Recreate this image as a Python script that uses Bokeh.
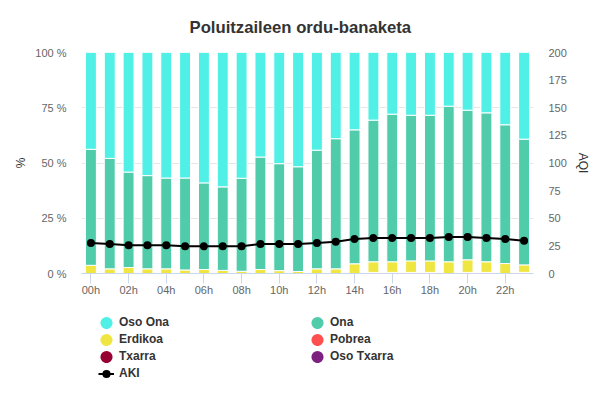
from bokeh.plotting import figure
from bokeh.models import Range1d, LinearAxis, FixedTicker, Legend, LegendItem, ColumnDataSource
from bokeh.layouts import column
from bokeh.embed import file_html
from bokeh.resources import INLINE

hours = list(range(24))
hour_labels = ["%02dh" % h for h in hours]

oso_ona = [43.8, 47.9, 54.1, 55.7, 56.8, 56.8, 59.0, 60.8, 56.9, 47.3, 50.3, 51.7,
           44.2, 39.0, 35.0, 30.6, 27.9, 28.4, 28.4, 24.3, 26.1, 27.3, 32.7, 39.2]
ona = [52.5, 50.0, 43.2, 42.2, 41.1, 41.6, 39.2, 37.8, 42.1, 50.9, 48.4, 47.4,
       53.7, 58.9, 60.6, 64.1, 66.8, 65.9, 65.9, 70.4, 67.7, 67.4, 62.8, 56.9]
erdikoa = [3.7, 2.1, 2.7, 2.1, 2.1, 1.6, 1.8, 1.4, 1.0, 1.8, 1.3, 0.9,
           2.1, 2.1, 4.4, 4.8, 4.8, 5.2, 5.2, 5.3, 5.7, 4.8, 4.5, 3.4]
pobrea = [0, 0, 0, 0, 0, 0, 0, 0, 0, 0, 0, 0,
          0, 0, 0, 0.5, 0.5, 0.5, 0.5, 0, 0.5, 0.5, 0, 0.5]
txarra = [0] * 24
oso_txarra = [0] * 24
aki = [27.6, 26.7, 25.5, 25.5, 25.5, 24.6, 24.6, 24.6, 24.6, 26.7, 26.7, 26.7,
       27.6, 28.8, 31.2, 32.1, 32.1, 32.1, 32.1, 33.0, 33.0, 32.1, 31.2, 29.7]

pct_ticks = [0, 25, 50, 75, 100]
aqi_ticks = [0, 25, 50, 75, 100, 125, 150, 175, 200]

series_names = ["Oso Txarra", "Txarra", "Pobrea", "Erdikoa", "Ona", "Oso Ona"]
keys = ["oso_txarra", "txarra", "pobrea", "erdikoa", "ona", "oso_ona"]
colors = {"Oso Ona": "#50f0e6", "Ona": "#50ccaa", "Erdikoa": "#f0e641",
          "Pobrea": "#ff5050", "Txarra": "#960032", "Oso Txarra": "#7d2181"}

source = ColumnDataSource(dict(x=hours, oso_txarra=oso_txarra, txarra=txarra, pobrea=pobrea,
                               erdikoa=erdikoa, ona=ona, oso_ona=oso_ona, aki=aki,
                               hidden=[float("nan")] * 24))

FONT = "Liberation Sans"

p = figure(width=600, height=300, output_backend="svg", toolbar_location=None,
           x_range=Range1d(-0.5, 23.5), y_range=Range1d(0, 100),
           min_border_left=81, min_border_right=67, min_border_top=51, min_border_bottom=27)
p.outline_line_color = None
p.background_fill_color = "white"
p.border_fill_color = "white"

p.title.text = "Poluitzaileen ordu-banaketa"
p.title.align = "left"
p.title.text_font = FONT
p.title.text_font_size = "16.7px"
p.title.text_font_style = "bold"
p.title.text_color = "#333333"
p.title.standoff = 31
p.title.offset = 108

bars = p.vbar_stack(keys, x="x", width=0.58, source=source,
                    color=[colors[n] for n in series_names],
                    line_color="white", line_width=1)

p.extra_y_ranges = {"aqi": Range1d(0, 200)}
line = p.line("x", "aki", source=source, y_range_name="aqi", line_color="black", line_width=2)
dots = p.scatter("x", "aki", source=source, y_range_name="aqi", size=5, line_width=3,
                 fill_color="black", line_color="black")

# axes
p.xgrid.grid_line_color = None
p.ygrid.grid_line_color = "#e6e6e6"
p.ygrid.ticker = FixedTicker(ticks=pct_ticks)

xa = p.xaxis[0]
xa.ticker = FixedTicker(ticks=hours[::2])
xa.major_label_overrides = {h: hour_labels[h] for h in hours}
xa.axis_line_color = "#ccd6eb"
xa.major_tick_line_color = "#ccd6eb"
xa.major_tick_out = 10
xa.major_tick_in = 0
xa.minor_tick_line_color = None
xa.major_label_text_color = "#666666"
xa.major_label_text_font = FONT
xa.major_label_text_font_size = "11px"
xa.major_label_standoff = 0

ya = p.yaxis[0]
ya.ticker = FixedTicker(ticks=pct_ticks)
ya.major_label_overrides = {t: "%d %%" % t for t in pct_ticks}
ya.axis_line_color = None
ya.major_tick_line_color = None
ya.major_tick_out = 0
ya.major_tick_in = 0
ya.minor_tick_line_color = None
ya.minor_tick_out = 0
ya.major_label_text_color = "#666666"
ya.major_label_text_font = FONT
ya.major_label_text_font_size = "11px"
ya.major_label_standoff = 15
ya.axis_label = "%"
ya.axis_label_text_font = FONT
ya.axis_label_text_font_size = "12px"
ya.axis_label_text_font_style = "normal"
ya.axis_label_text_color = "#333333"
ya.axis_label_standoff = 4

ra = LinearAxis(y_range_name="aqi", ticker=FixedTicker(ticks=aqi_ticks))
ra.axis_line_color = None
ra.major_tick_line_color = None
ra.major_tick_out = 0
ra.major_tick_in = 0
ra.minor_tick_line_color = None
ra.minor_tick_out = 0
ra.major_label_text_color = "#666666"
ra.major_label_text_font = FONT
ra.major_label_text_font_size = "11px"
ra.major_label_standoff = 15
ra.axis_label = "AQI"
ra.axis_label_text_font = FONT
ra.axis_label_text_font_size = "12px"
ra.axis_label_text_font_style = "normal"
ra.axis_label_text_color = "#333333"
ra.axis_label_standoff = 6
p.add_layout(ra, "right")

# legend strip under the chart
lf = figure(width=600, height=98, output_backend="svg", toolbar_location=None,
            x_range=Range1d(0, 1), y_range=Range1d(0, 1),
            x_axis_type=None, y_axis_type=None,
            min_border_left=0, min_border_right=0, min_border_top=0, min_border_bottom=0)
lf.outline_line_color = None
lf.background_fill_color = "white"
lf.border_fill_color = "white"
lf.xgrid.grid_line_color = None
lf.ygrid.grid_line_color = None

legend_order = ["Oso Ona", "Erdikoa", "Txarra", "AKI", "Ona", "Pobrea", "Oso Txarra"]
items = []
for name in legend_order:
    if name == "AKI":
        lr = lf.line(x="x", y="hidden", source=source, line_color="black", line_width=2)
        ls = lf.scatter(x="x", y="hidden", source=source, size=5, line_width=3,
                        fill_color="black", line_color="black")
        items.append(LegendItem(label="AKI", renderers=[lr, ls]))
    else:
        r = lf.scatter(x="x", y="hidden", source=source, marker="circle", size=5,
                       fill_color=colors[name], line_color=colors[name], line_width=7)
        items.append(LegendItem(label=name, renderers=[r]))

legend = Legend(items=items, ncols=2, location=(17, 18),
                glyph_width=16, glyph_height=13, label_height=13, label_width=187,
                label_standoff=5, spacing=3, padding=4, margin=0,
                label_text_font=FONT, label_text_font_size="12px", label_text_font_style="bold",
                label_text_color="#333333", border_line_color=None, background_fill_alpha=0)
lf.add_layout(legend)

open("out.html", "w").write(file_html(column(p, lf), INLINE))
